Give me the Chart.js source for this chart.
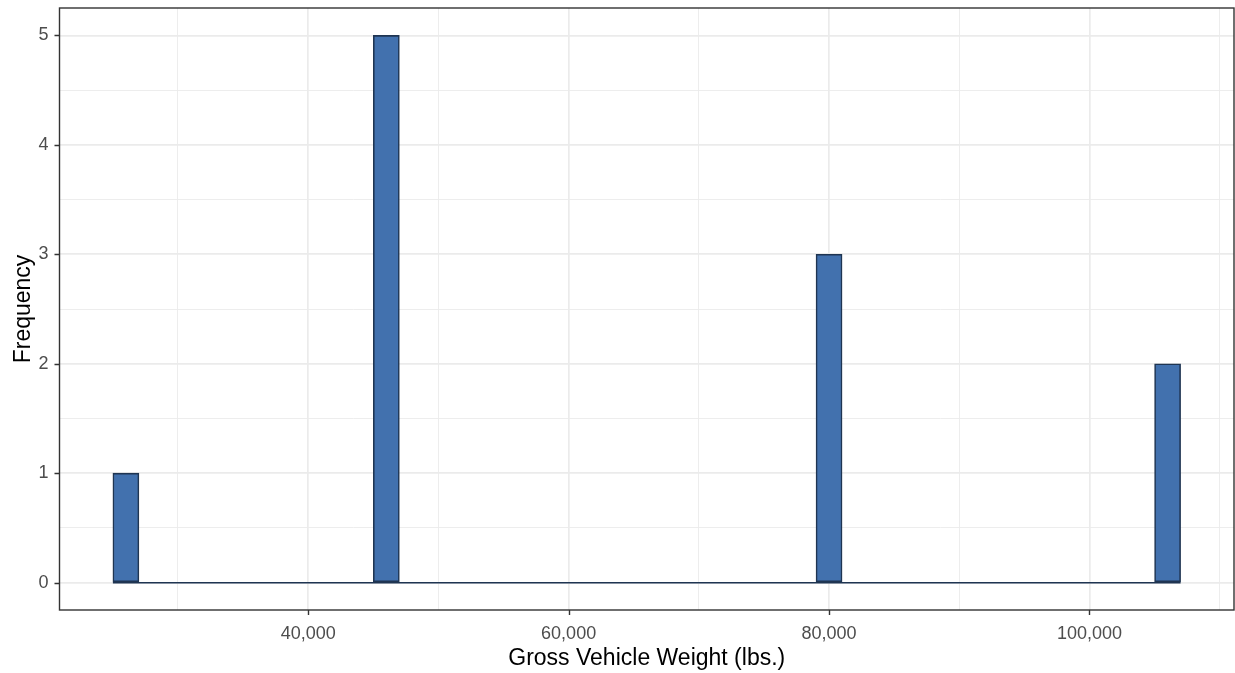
<!DOCTYPE html>
<html>
<head>
<meta charset="utf-8">
<title>Gross Vehicle Weight histogram</title>
<script src="https://cdn.jsdelivr.net/npm/chart.js@4"></script>
<style>
  html, body { margin: 0; padding: 0; background: #ffffff; }
</style>
</head>
<body>
<canvas id="hist" width="1235" height="673"></canvas>
<script>
// =============================================================================
// Data – histogram of gross vehicle weight, 2,000 lb bins from 25,000 lbs
// =============================================================================
const BIN_START = 25000;
const BIN_WIDTH = 2000;

// one count per bin (25k-27k, 27k-29k, ... 105k-107k)
const counts = [
  1, 0, 0, 0, 0, 0, 0, 0, 0, 0,   // 25k - 45k
  5, 0, 0, 0, 0, 0, 0, 0, 0, 0,   // 45k - 65k
  0, 0, 0, 0, 0, 0, 0, 3, 0, 0,   // 65k - 85k
  0, 0, 0, 0, 0, 0, 0, 0, 0, 0,   // 85k - 105k
  2                               // 105k - 107k
];

const xGridValues = [30000, 40000, 50000, 60000, 70000, 80000, 90000, 100000, 110000];
const xTickLabels = [40000, 60000, 80000, 100000];
const yGridValues = [0, 0.5, 1, 1.5, 2, 2.5, 3, 3.5, 4, 4.5, 5];
const yTickLabels = [0, 1, 2, 3, 4, 5];

const FILL = '#4271AE';
const OUTLINE = '#1F3552';
const GRID = '#EBEBEB';
const AXIS = '#333333';
const FONT = "'Liberation Sans', Arial, sans-serif";

// bins -> {x: centre, y: count}
const bars = counts.map((c, i) => ({ x: BIN_START + BIN_WIDTH * (i + 0.5), y: c }));
const binEnd = BIN_START + BIN_WIDTH * counts.length;

const isMajorX = v => xTickLabels.includes(v);
const isMajorY = v => yTickLabels.includes(v);

// panel border + outside tick marks (theme_bw look)
const panelBorder = {
  id: 'panelBorder',
  afterDraw(chart) {
    const { ctx, chartArea: a, scales } = chart;
    ctx.save();
    ctx.strokeStyle = AXIS;
    ctx.lineWidth = 1.4;
    ctx.beginPath();
    xTickLabels.forEach(v => {
      const px = Math.round(scales.x.getPixelForValue(v)) + 0.5;
      ctx.moveTo(px, a.bottom);
      ctx.lineTo(px, a.bottom + 5);
    });
    yTickLabels.forEach(v => {
      const py = Math.round(scales.y.getPixelForValue(v)) + 0.5;
      ctx.moveTo(a.left, py);
      ctx.lineTo(a.left - 5, py);
    });
    ctx.stroke();
    ctx.strokeRect(a.left, a.top, a.right - a.left, a.bottom - a.top);
    ctx.restore();
  }
};

new Chart(document.getElementById('hist'), {
  type: 'bar',
  data: {
    datasets: [
      {
        type: 'line',
        data: [{ x: BIN_START, y: 0 }, { x: binEnd, y: 0 }],
        borderColor: OUTLINE,
        borderWidth: 1.5,
        pointRadius: 0,
        order: 1
      },
      {
        data: bars,
        backgroundColor: FILL,
        borderColor: OUTLINE,
        borderWidth: 1.6,
        borderSkipped: false,
        barPercentage: 1,
        categoryPercentage: 1,
        order: 2
      }
    ]
  },
  options: {
    responsive: false,
    animation: false,
    layout: { padding: { top: 8, right: 1, left: 0, bottom: 0 } },
    plugins: {
      legend: { display: false },
      tooltip: { enabled: false }
    },
    scales: {
      x: {
        type: 'linear',
        offset: false,
        min: 20900,
        max: 111100,
        afterBuildTicks: s => { s.ticks = xGridValues.map(v => ({ value: v })); },
        afterFit: s => { s.height = 63; s.paddingLeft = 0; s.paddingRight = 0; },
        border: { display: false },
        grid: {
          offset: false,
          color: GRID,
          lineWidth: c => (c.tick && isMajorX(c.tick.value)) ? 1.7 : 0.9,
          drawTicks: false
        },
        ticks: {
          autoSkip: false,
          maxRotation: 0,
          padding: 13,
          color: '#4D4D4D',
          font: { family: FONT, size: 18 },
          callback: v => isMajorX(v) ? v.toLocaleString('en-US') : ''
        },
        title: {
          display: true,
          text: 'Gross Vehicle Weight (lbs.)',
          color: '#000000',
          font: { family: FONT, size: 23 },
          padding: { top: 0, bottom: 1 }
        }
      },
      y: {
        min: -0.25,
        max: 5.25,
        afterBuildTicks: s => { s.ticks = yGridValues.map(v => ({ value: v })); },
        afterFit: s => { s.width = 59.5; s.paddingTop = 0; s.paddingBottom = 0; },
        border: { display: false },
        grid: {
          color: GRID,
          lineWidth: c => (c.tick && isMajorY(c.tick.value)) ? 1.7 : 0.9,
          drawTicks: false
        },
        ticks: {
          autoSkip: false,
          padding: 11,
          color: '#4D4D4D',
          font: { family: FONT, size: 18 },
          callback: v => isMajorY(v) ? String(v) : ''
        },
        title: {
          display: true,
          text: 'Frequency',
          color: '#000000',
          font: { family: FONT, size: 23 },
          padding: { top: 10, bottom: 0 }
        }
      }
    }
  },
  plugins: [panelBorder]
});
</script>
</body>
</html>
